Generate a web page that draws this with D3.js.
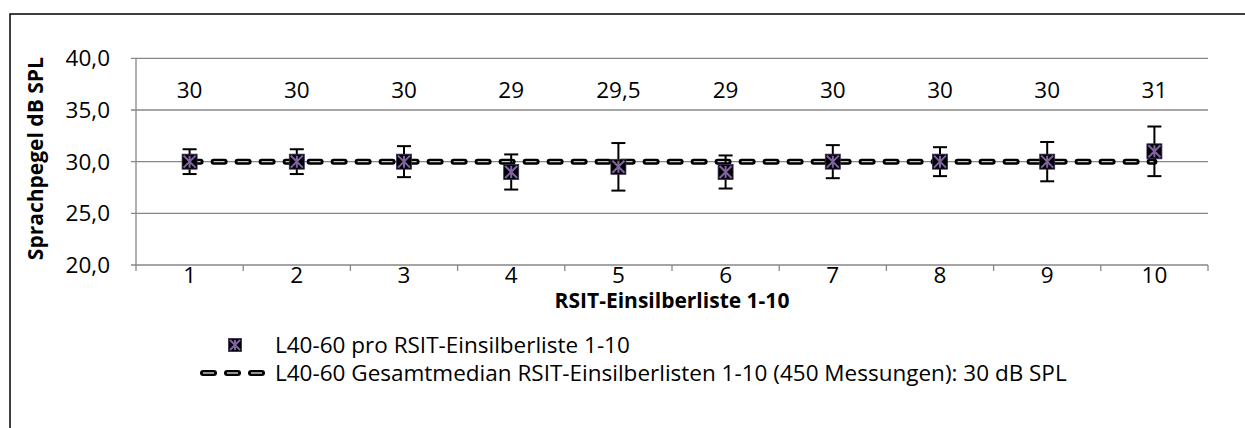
<!DOCTYPE html>
<html>
<head>
<meta charset="utf-8">
<script src="https://cdn.jsdelivr.net/npm/d3@7"></script>
<style>
  html, body { margin: 0; padding: 0; background: #fff; }
  svg { display: block; font-family: "Open Sans", Lato, sans-serif; }
</style>
</head>
<body>
<svg id="chart" width="1245" height="428"></svg>
<script>
// Speech level per RSIT monosyllable list (median, L40-60)
const lists = [1, 2, 3, 4, 5, 6, 7, 8, 9, 10];
const medians = [30, 30, 30, 29, 29.5, 29, 30, 30, 30, 31];
const upper = [31.2, 31.2, 31.5, 30.7, 31.8, 30.6, 31.6, 31.4, 31.9, 33.4];
const lower = [28.8, 28.8, 28.5, 27.3, 27.2, 27.4, 28.4, 28.6, 28.1, 28.6];
const valueLabels = ["30", "30", "30", "29", "29,5", "29", "30", "30", "30", "31"];
const overallMedian = 30;
const yTicks = [20, 25, 30, 35, 40];

const svg = d3.select("#chart");
const plot = { left: 136, right: 1208, top: 58.3, bottom: 265 };
const FS = 22.5;

const x = d3.scaleBand().domain(lists).range([plot.left, plot.right]).padding(0);
const y = d3.scaleLinear().domain([20, 40]).range([plot.bottom, plot.top]);
const cx = d => x(d) + x.bandwidth() / 2;

// outer frame
svg.append("rect").attr("x", 10).attr("y", 14).attr("width", 1260).attr("height", 440)
  .attr("fill", "none").attr("stroke", "#000").attr("stroke-width", 1.5);

// horizontal gridlines
svg.append("g").selectAll("line").data(yTicks).join("line")
  .attr("x1", plot.left - 5).attr("x2", plot.right)
  .attr("y1", d => y(d)).attr("y2", d => y(d))
  .attr("stroke", "#878787").attr("stroke-width", 1.3);

// y axis line
svg.append("line").attr("x1", plot.left).attr("x2", plot.left)
  .attr("y1", plot.top).attr("y2", plot.bottom)
  .attr("stroke", "#878787").attr("stroke-width", 1.3);

// x ticks at category boundaries
const bounds = lists.map(d => x(d)).concat([plot.right]);
svg.append("g").selectAll("line").data(bounds).join("line")
  .attr("x1", d => d).attr("x2", d => d)
  .attr("y1", plot.bottom).attr("y2", plot.bottom + 6)
  .attr("stroke", "#878787").attr("stroke-width", 1.3);

// y tick labels
const fmt = v => d3.format(".1f")(v).replace(".", ",");
svg.append("g").selectAll("text").data(yTicks).join("text")
  .attr("x", 110).attr("y", d => y(d)).attr("dy", "0.35em")
  .attr("text-anchor", "end").attr("font-size", FS).attr("fill", "#000")
  .text(fmt);

// x tick labels
svg.append("g").selectAll("text").data(lists).join("text")
  .attr("x", d => cx(d)).attr("y", 275).attr("dy", "0.35em")
  .attr("text-anchor", "middle").attr("font-size", FS).attr("fill", "#000")
  .text(d => d);

// axis titles
svg.append("text").attr("x", 672).attr("y", 301).attr("dy", "0.35em")
  .attr("text-anchor", "middle").attr("font-size", 21).attr("font-weight", "bold")
  .text("RSIT-Einsilberliste 1-10");
svg.append("text")
  .attr("transform", `translate(36,${(plot.top + plot.bottom) / 2 - 3}) rotate(-90)`)
  .attr("dy", "0.35em").attr("text-anchor", "middle")
  .attr("font-size", 21).attr("font-weight", "bold")
  .text("Sprachpegel dB SPL");

// overall median line: black rounded dashes with light centre
function medianLine(g, x1, x2, yy) {
  g.append("line").attr("x1", x1).attr("x2", x2).attr("y1", yy).attr("y2", yy)
    .attr("stroke", "#000").attr("stroke-width", 6)
    .attr("stroke-linecap", "round").attr("stroke-dasharray", "11 13");
  g.append("line").attr("x1", x1).attr("x2", x2).attr("y1", yy).attr("y2", yy)
    .attr("stroke", "#c4c4c4").attr("stroke-width", 1.3)
    .attr("stroke-linecap", "butt").attr("stroke-dasharray", "11 13");
}
medianLine(svg.append("g"), cx(lists[0]), cx(lists[lists.length - 1]), y(overallMedian));

// error bars
const eb = svg.append("g").attr("stroke", "#000").attr("stroke-width", 2);
lists.forEach((d, i) => {
  const xx = cx(d);
  eb.append("line").attr("x1", xx).attr("x2", xx).attr("y1", y(upper[i])).attr("y2", y(lower[i]));
  eb.append("line").attr("x1", xx - 7).attr("x2", xx + 7).attr("y1", y(upper[i])).attr("y2", y(upper[i]));
  eb.append("line").attr("x1", xx - 7).attr("x2", xx + 7).attr("y1", y(lower[i])).attr("y2", y(lower[i]));
});

// markers: dark square with purple asterisk
function marker(g, xx, yy, s) {
  const h = s / 2;
  g.append("rect").attr("x", xx - h).attr("y", yy - h).attr("width", s).attr("height", s)
    .attr("fill", "#000").attr("stroke", "#3a2d52").attr("stroke-width", 0.8);
  const k = h - 1.5;
  g.append("path")
    .attr("d", `M${xx - k},${yy - k}L${xx + k},${yy + k}M${xx - k},${yy + k}L${xx + k},${yy - k}M${xx},${yy - k}L${xx},${yy + k}`)
    .attr("stroke", "#8064a2").attr("stroke-width", 2).attr("fill", "none");
}
const mk = svg.append("g");
lists.forEach((d, i) => marker(mk, cx(d), y(medians[i]), 15));

// value labels above the plot
svg.append("g").selectAll("text").data(lists).join("text")
  .attr("x", d => cx(d)).attr("y", 90).attr("dy", "0.35em")
  .attr("text-anchor", "middle").attr("font-size", FS).attr("fill", "#000")
  .text((d, i) => valueLabels[i]);

// legend
const lg = svg.append("g");
marker(lg, 235, 345, 13);
lg.append("text").attr("x", 275).attr("y", 345).attr("dy", "0.35em").attr("font-size", FS)
  .text("L40-60 pro RSIT-Einsilberliste 1-10");
medianLine(lg, 203, 262, 373);
lg.append("text").attr("x", 275).attr("y", 373).attr("dy", "0.35em").attr("font-size", FS)
  .text("L40-60 Gesamtmedian RSIT-Einsilberlisten 1-10 (450 Messungen): 30 dB SPL");
</script>
</body>
</html>
